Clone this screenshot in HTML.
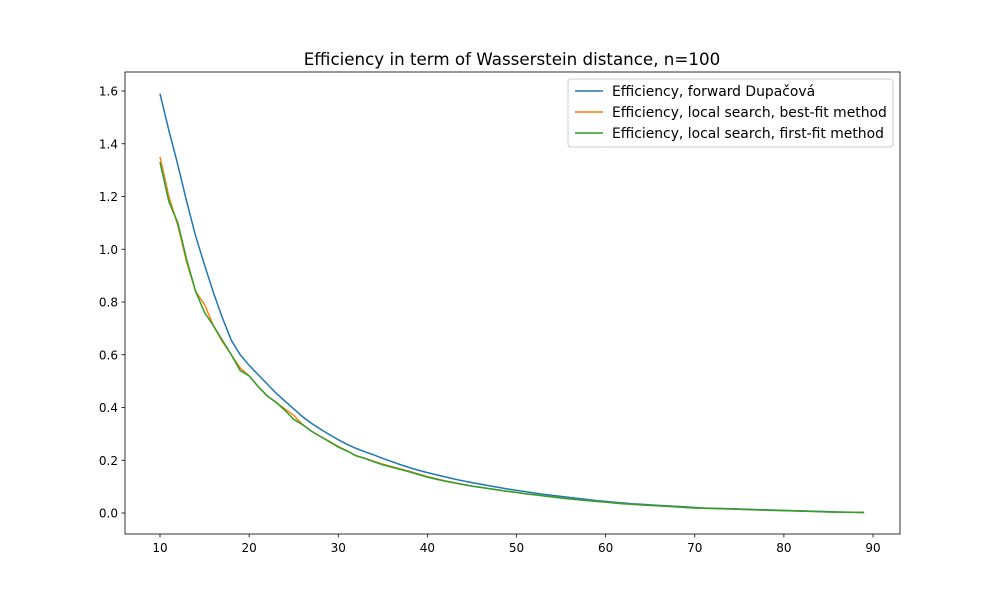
<!DOCTYPE html>
<html><head><meta charset="utf-8"><style>
body{margin:0;background:#fff;}
svg text{font-family:"DejaVu Sans","Liberation Sans",sans-serif;}
</style></head><body>
<svg id="chart" width="1000" height="600" xmlns="http://www.w3.org/2000/svg">
<rect width="1000" height="600" fill="#fff"/>
<text x="512" y="65" font-size="16.7" text-anchor="middle">Efficiency in term of Wasserstein distance, n=100</text>
<g id="plot"></g>
<rect x="125" y="72" width="775" height="462" fill="none" stroke="#000" stroke-width="0.8"/>
<g>
<rect x="568" y="79" width="325" height="68" rx="3" fill="#fff" fill-opacity="0.8" stroke="#ccc"/>
<g><line x1="575" y1="91" x2="603" y2="91" stroke="#1f77b4" stroke-width="1.5"/><text x="612" y="96" font-size="13.9">Efficiency, forward Dupačová</text></g>
<g><line x1="575" y1="112" x2="603" y2="112" stroke="#ff7f0e" stroke-width="1.5"/><text x="612" y="117" font-size="13.9">Efficiency, local search, best-fit method</text></g>
<g><line x1="575" y1="133" x2="603" y2="133" stroke="#2ca02c" stroke-width="1.5"/><text x="612" y="138" font-size="13.9">Efficiency, local search, first-fit method</text></g>
</g>
</svg>
<script>
const xTicks=[10,20,30,40,50,60,70,80,90];
const yTicks=[0.0,0.2,0.4,0.6,0.8,1.0,1.2,1.4,1.6];
const xStart=10;
const blue=[1.59,1.45,1.32,1.18,1.05,0.94,0.835,0.74,0.655,0.6,0.56,0.525,0.49,0.455,0.425,0.395,0.365,0.34,0.318,0.297,0.278,0.26,0.245,0.232,0.22,0.207,0.195,0.183,0.172,0.162,0.153,0.145,0.137,0.129,0.122,0.115,0.109,0.103,0.097,0.091,0.086,0.081,0.076,0.071,0.067,0.063,0.059,0.055,0.051,0.047,0.044,0.041,0.038,0.035,0.033,0.031,0.029,0.027,0.025,0.023,0.021,0.019,0.018,0.017,0.016,0.015,0.014,0.013,0.012,0.011,0.01,0.009,0.008,0.007,0.006,0.005,0.004,0.0035,0.003,0.002];
const orange=[1.35,1.2,1.09,0.95,0.84,0.79,0.71,0.65,0.6,0.55,0.52,0.48,0.445,0.42,0.395,0.37,0.335,0.31,0.29,0.272,0.252,0.236,0.217,0.207,0.196,0.185,0.176,0.167,0.158,0.148,0.138,0.13,0.122,0.115,0.108,0.102,0.097,0.092,0.087,0.082,0.078,0.073,0.069,0.065,0.061,0.057,0.053,0.05,0.047,0.044,0.041,0.038,0.035,0.033,0.031,0.029,0.027,0.025,0.023,0.021,0.019,0.018,0.017,0.016,0.015,0.014,0.013,0.012,0.011,0.01,0.009,0.008,0.007,0.006,0.005,0.004,0.0035,0.003,0.0025,0.002];
const green=[1.33,1.18,1.1,0.96,0.84,0.76,0.71,0.655,0.6,0.54,0.52,0.48,0.445,0.42,0.39,0.355,0.335,0.31,0.29,0.27,0.25,0.235,0.217,0.207,0.194,0.183,0.174,0.165,0.156,0.146,0.136,0.128,0.121,0.114,0.108,0.102,0.097,0.092,0.087,0.082,0.078,0.073,0.069,0.065,0.061,0.057,0.053,0.05,0.047,0.044,0.041,0.038,0.035,0.033,0.031,0.029,0.027,0.025,0.023,0.021,0.019,0.018,0.017,0.016,0.015,0.014,0.013,0.012,0.011,0.01,0.009,0.008,0.007,0.006,0.005,0.004,0.0035,0.003,0.0025,0.002];
const NS='http://www.w3.org/2000/svg';
const X=v=>160+(v-10)*8.9125;
const Y=v=>513-v*263.75;
const g=document.getElementById('plot');
function mk(t,a){const e=document.createElementNS(NS,t);for(const k in a)e.setAttribute(k,a[k]);g.appendChild(e);return e;}
xTicks.forEach(t=>{
 const l=mk('line',{x1:X(t),x2:X(t),y1:534,y2:537.5,stroke:'#000','stroke-width':0.8});
 
 
 const s=mk('text',{x:X(t),y:552,'font-size':12,'text-anchor':'middle'});s.textContent=t;
 
 
});
yTicks.forEach(t=>{
 const l=mk('line',{x1:121.5,x2:125,y1:Y(t),y2:Y(t),stroke:'#000','stroke-width':0.8});
 
 
 const s=mk('text',{x:118,y:Y(t)+4.5,'font-size':12,'text-anchor':'end'});s.textContent=t.toFixed(1);
 
 
});
[[blue,'#1f77b4','line-forward'],[orange,'#ff7f0e','line-best-fit'],[green,'#2ca02c','line-first-fit']].forEach(([d,c,n])=>{
 const p=mk('polyline',{points:d.map((v,i)=>X(xStart+i)+','+Y(v)).join(' '),fill:'none',stroke:c,'stroke-width':1.5});
 
 
});
</script>
</body></html>
